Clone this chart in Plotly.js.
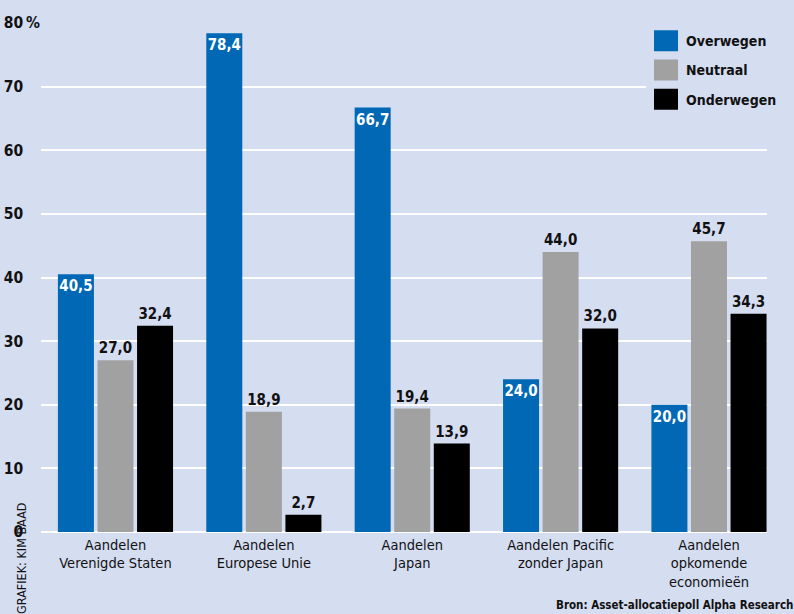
<!DOCTYPE html>
<html><head><meta charset="utf-8">
<script src="https://cdn.plot.ly/plotly-3.0.1.min.js"></script>
<style>html,body{margin:0;padding:0;background:#d5ddf1;}</style>
</head><body>
<div id="chart" style="width:794px;height:614px;"></div>
<script>
var categories = ["Aandelen<br>Verenigde Staten", "Aandelen<br>Europese Unie", "Aandelen<br>Japan", "Aandelen Pacific<br>zonder Japan", "Aandelen<br>opkomende<br>economieën"];
var overwegen = [40.5, 78.4, 66.7, 24.0, 20.0];
var neutraal = [27.0, 18.9, 19.4, 44.0, 45.7];
var onderwegen = [32.4, 2.7, 13.9, 32.0, 34.3];
var tickVals = [0, 10, 20, 30, 40, 50, 60, 70, 80];
var tickText = ["0", "10", "20", "30", "40", "50", "60", "70", "80\u2009%"];

var FONT = "'DejaVu Sans Condensed', 'DejaVu Sans', sans-serif";
var ST = 'condensed';
var BG = "#d5ddf1";
var pad = "<span style='color:rgba(0,0,0,0)'>\u2009%</span>";
var tickTextPadded = tickText.map(function (t) { return t.indexOf('%') >= 0 ? t : t + pad; });

function f(size, color, weight) {
  return { family: FONT, size: size, color: color, weight: weight || 'normal', stretch: ST };
}

function barTrace(name, vals, color, textColor, pos, grp) {
  return {
    type: 'bar', name: name, x: categories, y: vals, legendgroup: grp,
    marker: { color: color, line: { width: 0 } },
    texttemplate: '%{y:.1f}', textposition: pos, textangle: 0, constraintext: 'none',
    insidetextanchor: 'end', cliponaxis: false,
    textfont: f(15, textColor, 'bold'),
    insidetextfont: f(15, textColor, 'bold'),
    outsidetextfont: f(15, textColor, 'bold'),
    hoverinfo: 'skip'
  };
}

var data = [
  barTrace('Overwegen', overwegen, '#0068b5', '#ffffff', 'inside', 'a'),
  barTrace('Neutraal', neutraal, '#a1a1a1', '#111111', 'outside', 'b'),
  barTrace('Onderwegen', onderwegen, '#000000', '#111111', 'outside', 'c')
];

var layout = {
  width: 794, height: 614,
  margin: { l: 41, r: 27, t: 23, b: 82, pad: 0, autoexpand: false },
  paper_bgcolor: BG, plot_bgcolor: BG,
  separators: ',.',
  font: f(14, '#111111'),
  barmode: 'group', bargap: 0.2, bargroupgap: 0.09,
  xaxis: {
    range: [-0.502, 4.391], showgrid: false, zeroline: false, showline: false,
    ticks: '', tickfont: f(14.5, '#111111'),
    ticklabelstandoff: 2, automargin: false
  },
  yaxis: {
    range: [0, 80], tickvals: tickVals, ticktext: tickTextPadded,
    showgrid: true, gridcolor: '#ffffff', gridwidth: 2,
    zeroline: true, zerolinecolor: '#ffffff', zerolinewidth: 2,
    showline: false, ticks: '', automargin: false,
    tickfont: f(15.5, '#111111', 'bold')
  },
  showlegend: true,
  legend: {
    xref: 'container', yref: 'container',
    x: 0.8136, y: 0.959, xanchor: 'left', yanchor: 'top',
    bgcolor: BG, borderwidth: 0,
    traceorder: 'grouped', tracegroupgap: 8,
    font: f(14, '#111111', 'bold')
  },
  annotations: [
    { text: 'GRAFIEK: KIM BAAD', xref: 'paper', yref: 'paper', x: -0.027, y: -0.165,
      xanchor: 'center', yanchor: 'bottom', textangle: -90, showarrow: false,
      font: f(12.5, '#111111') },
    { text: 'Bron: Asset-allocatiepoll Alpha Research', xref: 'paper', yref: 'paper',
      x: 1.0385, y: -0.143, xanchor: 'right', yanchor: 'middle', showarrow: false,
      font: f(11.5, '#111111', 'bold') }
  ]
};

Plotly.newPlot('chart', data, layout, { displayModeBar: false, staticPlot: true }).then(function (gd) {
  gd.querySelectorAll('.legend .legendpoints path').forEach(function (p) {
    p.setAttribute('d', 'M12,10.5H-12V-10.5H12Z');
  });
});
</script>
</body></html>
